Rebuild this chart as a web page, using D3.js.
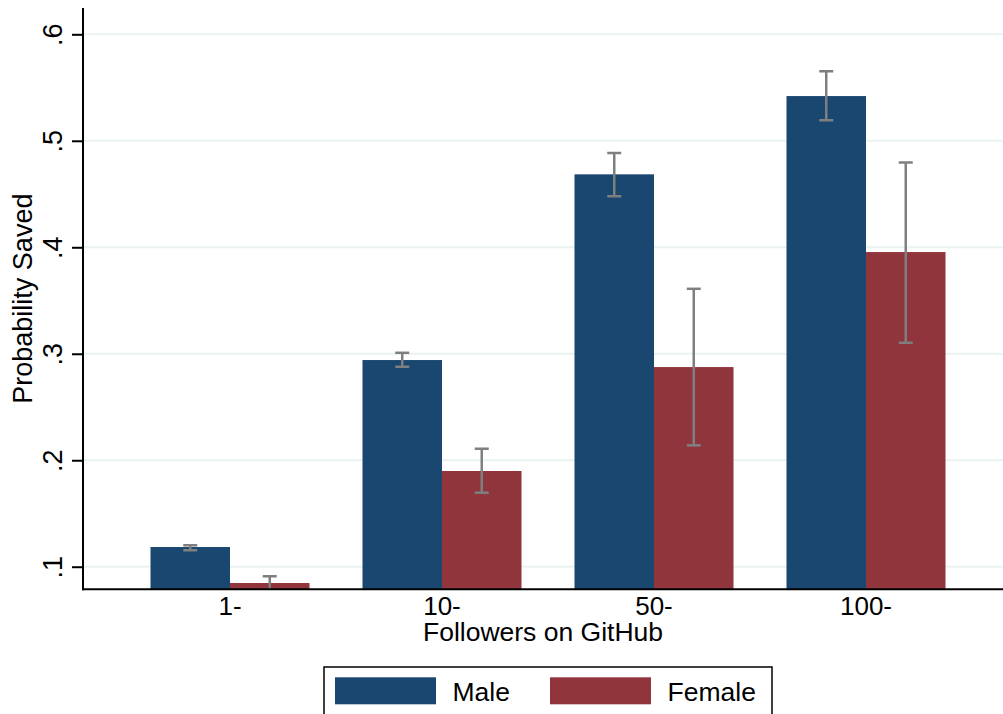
<!DOCTYPE html>
<html>
<head>
<meta charset="utf-8">
<script src="https://cdn.jsdelivr.net/npm/d3@7"></script>
<style>
  body { margin: 0; background: #fff; }
  text { font-family: "Liberation Sans", Arial, Helvetica, sans-serif; fill: #000; }
</style>
</head>
<body>
<div id="chart"></div>
<script>
// Data
var categories = ["1-", "10-", "50-", "100-"];
var maleMean = [0.1185, 0.2941, 0.4685, 0.5420];
var maleLo   = [0.1154, 0.2878, 0.4478, 0.5192];
var maleHi   = [0.1201, 0.3009, 0.4885, 0.5652];
var femaleMean = [0.0847, 0.1899, 0.2875, 0.3955];
var femaleLo   = [0.0784, 0.1695, 0.2140, 0.3103];
var femaleHi   = [0.0910, 0.2108, 0.3610, 0.4797];
var yTicks = [0.1, 0.2, 0.3, 0.4, 0.5, 0.6];
var seriesNames = ["Male", "Female"];
var seriesColors = ["#1a476f", "#90353b"];

var svgWidth = 1003;
var svgHeight = 714;

var plot = { left: 83, right: 1003, top: 8, bottom: 589.3 };

var svg = d3.select("#chart")
  .append("svg")
  .attr("width", svgWidth)
  .attr("height", svgHeight);

// scales
var yScale = d3.scaleLinear()
  .domain([0.0788, 0.6247])
  .range([plot.bottom, plot.top]);

var xScale = d3.scaleBand()
  .domain(categories)
  .range([124, 972])
  .paddingInner(0.25)
  .paddingOuter(0.125);

var inner = d3.scaleBand()
  .domain(seriesNames)
  .range([0, xScale.bandwidth()]);

// gridlines
svg.append("g")
  .selectAll("line")
  .data(yTicks)
  .enter()
  .append("line")
  .attr("x1", plot.left)
  .attr("x2", plot.right)
  .attr("y1", d => yScale(d))
  .attr("y2", d => yScale(d))
  .attr("stroke", "#eaf2f3")
  .attr("stroke-width", 2);

// bars
var rows = categories.map(function (c, i) {
  return [
    { cat: c, s: "Male", v: maleMean[i], lo: maleLo[i], hi: maleHi[i] },
    { cat: c, s: "Female", v: femaleMean[i], lo: femaleLo[i], hi: femaleHi[i] }
  ];
});
var flat = [].concat.apply([], rows);
var color = d3.scaleOrdinal().domain(seriesNames).range(seriesColors);

svg.append("defs").append("clipPath")
  .attr("id", "plotclip")
  .append("rect")
  .attr("x", plot.left)
  .attr("y", plot.top)
  .attr("width", plot.right - plot.left)
  .attr("height", plot.bottom - plot.top);

var barsGroup = svg.append("g").attr("clip-path", "url(#plotclip)");

barsGroup.selectAll("rect")
  .data(flat)
  .enter()
  .append("rect")
  .attr("x", d => xScale(d.cat) + inner(d.s))
  .attr("width", inner.bandwidth())
  .attr("y", d => yScale(d.v))
  .attr("height", d => plot.bottom - yScale(d.v))
  .attr("fill", d => color(d.s));

// error bars
var capW = 7;
var errGroup = barsGroup.append("g")
  .attr("stroke", "#7f7f7f")
  .attr("stroke-width", 2.5);

flat.forEach(function (d) {
  var cx = xScale(d.cat) + inner(d.s) + inner.bandwidth() / 2;
  errGroup.append("line")
    .attr("x1", cx).attr("x2", cx)
    .attr("y1", yScale(d.lo)).attr("y2", yScale(d.hi));
  errGroup.append("line")
    .attr("x1", cx - capW).attr("x2", cx + capW)
    .attr("y1", yScale(d.lo)).attr("y2", yScale(d.lo));
  errGroup.append("line")
    .attr("x1", cx - capW).attr("x2", cx + capW)
    .attr("y1", yScale(d.hi)).attr("y2", yScale(d.hi));
});

// y axis
var leftAxis = d3.axisLeft(yScale)
  .tickValues(yTicks)
  .tickSize(11)
  .tickPadding(0)
  .tickFormat(d => d3.format(".1f")(d).replace(/^0/, ""));

var yAxis = svg.append("g")
  .attr("transform", `translate(${plot.left}, 0)`)
  .call(leftAxis);

yAxis.select(".domain").remove();
yAxis.selectAll(".tick line")
  .attr("stroke", "#000")
  .attr("stroke-width", 2);
yAxis.selectAll(".tick text")
  .attr("x", null)
  .attr("dy", null)
  .attr("text-anchor", "middle")
  .attr("transform", "translate(-21, 0) rotate(-90)")
  .attr("font-size", 27)
  .attr("font-family", "Liberation Sans, Arial, sans-serif");

svg.append("line")
  .attr("x1", plot.left).attr("x2", plot.left)
  .attr("y1", plot.top).attr("y2", plot.bottom + 1)
  .attr("stroke", "#000")
  .attr("stroke-width", 2);

// x axis
svg.append("line")
  .attr("x1", plot.left - 1).attr("x2", plot.right)
  .attr("y1", plot.bottom).attr("y2", plot.bottom)
  .attr("stroke", "#000")
  .attr("stroke-width", 2);

svg.append("g")
  .selectAll("text")
  .data(categories)
  .enter()
  .append("text")
  .attr("x", d => xScale(d) + xScale.bandwidth() / 2)
  .attr("y", 614.5)
  .attr("text-anchor", "middle")
  .attr("font-size", 26)
  .text(d => d);

// axis titles
svg.append("text")
  .attr("x", (plot.left + plot.right) / 2)
  .attr("y", 641)
  .attr("text-anchor", "middle")
  .attr("font-size", 26.5)
  .text("Followers on GitHub");

svg.append("text")
  .attr("transform", `translate(32, ${(plot.top + plot.bottom) / 2}) rotate(-90)`)
  .attr("text-anchor", "middle")
  .attr("font-size", 27)
  .text("Probability Saved");

// legend
var legend = svg.append("g");
legend.append("rect")
  .attr("x", 324)
  .attr("y", 667)
  .attr("width", 448)
  .attr("height", 60)
  .attr("fill", "#fff")
  .attr("stroke", "#000")
  .attr("stroke-width", 1.5);

var legendX = [335, 550];
seriesNames.forEach(function (s, i) {
  legend.append("rect")
    .attr("x", legendX[i])
    .attr("y", 677.3)
    .attr("width", 101)
    .attr("height", 27)
    .attr("fill", seriesColors[i]);
  legend.append("text")
    .attr("x", legendX[i] + 117.5)
    .attr("y", 701)
    .attr("font-size", 26.5)
    .text(s);
});
</script>
</body>
</html>
